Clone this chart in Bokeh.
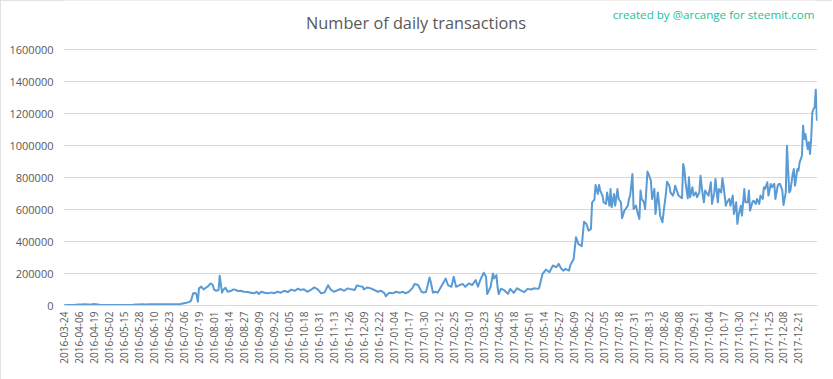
from bokeh.plotting import figure
from bokeh.models import Label, FixedTicker, Range1d, NumeralTickFormatter
from bokeh.embed import file_html
from bokeh.resources import INLINE
from math import pi

# days since 2016-03-24 (category index of the daily axis)
day = [0, 3, 6, 9, 12, 15, 18, 21, 24, 26, 29, 32, 35, 38, 41, 44, 47, 50, 53, 56, 59, 62, 65, 68, 71, 74, 77, 80, 83, 86, 89, 92, 95, 98, 101, 103,
       106, 108, 110, 112, 114, 115, 116, 117, 119, 121, 123, 125, 127, 129, 130, 132, 134, 135, 137, 138, 140, 142, 145, 147, 149, 151, 153, 156, 159,
       162, 165, 167, 169, 171, 174, 177, 180, 182, 185, 188, 191, 194, 197, 200, 203, 205, 208, 211, 214, 217, 220, 223, 226, 229, 231, 234, 237, 240,
       243, 246, 249, 252, 254, 256, 259, 260, 263, 266, 269, 272, 275, 278, 279, 282, 285, 288, 291, 294, 296, 299, 302, 304, 307, 309, 310, 312, 314,
       317, 318, 320, 322, 324, 327, 330, 331, 333, 336, 338, 340, 343, 346, 348, 351, 354, 357, 359, 361, 364, 366, 367, 370, 372, 373, 375, 376, 377, 379,
       382, 385, 387, 390, 393, 396, 399, 402, 405, 408, 411, 412, 415, 418, 421, 424, 427, 429, 431, 433, 435, 438, 439, 442, 444, 446, 449, 451, 453, 455,
       457, 458, 460, 461, 463, 464, 465, 467, 468, 470, 471, 473, 474, 475, 477, 478, 480, 481, 483, 484, 486, 487, 489, 490, 491, 493, 494, 496, 497, 499,
       500, 501, 503, 504, 506, 507, 509, 510, 512, 513, 515, 516, 517, 519, 520, 522, 523, 525, 526, 528, 529, 530, 532, 533, 535, 536, 537, 538, 539, 541,
       542, 543, 545, 546, 548, 549, 551, 552, 554, 555, 556, 558, 559, 561, 562, 564, 565, 567, 568, 570, 571, 572, 574, 575, 577, 578, 580, 581, 583, 584,
       585, 587, 588, 590, 591, 593, 594, 595, 597, 598, 600, 601, 603, 604, 606, 607, 608, 610, 611, 613, 614, 616, 617, 619, 620, 621, 623, 624, 626, 627,
       629, 630, 632, 633, 634, 636, 637, 638, 640, 641, 642, 643, 645, 646, 647, 648, 649, 650, 651, 652, 653]

transactions = [2000, 2500, 3000, 3500, 6000, 7000, 7500, 6500, 7000, 9000, 6000, 3000, 2500, 2500, 3000, 2500, 3000, 2500, 3000, 3500, 3000, 6500, 7000, 7500, 7000, 7500, 7500, 7500, 8000, 8000, 8000, 8500, 8000, 8500, 9000, 12000,
                17000, 21000, 28000, 76000, 78000, 65000, 24000, 107000, 118000, 101000, 111000, 121000, 138000, 128000, 101000, 92000, 97000, 186000, 80000, 97000, 111000, 86000, 92000, 101000, 97000, 90000, 92000, 86000, 84000,
                80000, 76000, 86000, 72000, 86000, 80000, 76000, 82000, 76000, 86000, 80000, 92000, 84000, 99000, 92000, 105000, 97000, 101000, 86000, 97000, 113000, 101000, 76000, 82000, 127000, 101000, 86000, 95000, 103000,
                92000, 107000, 101000, 97000, 126000, 121000, 117000, 101000, 113000, 107000, 97000, 86000, 92000, 76000, 58000, 80000, 76000, 86000, 80000, 86000, 76000, 86000, 107000, 134000, 128000, 101000, 86000, 80000, 86000,
                175000, 148000, 80000, 86000, 80000, 117000, 155000, 169000, 128000, 117000, 180000, 117000, 128000, 134000, 117000, 138000, 128000, 159000, 117000, 159000, 205000, 180000, 72000, 117000, 200000, 169000, 190000, 117000, 72000, 105000,
                94000, 73000, 104000, 79000, 108000, 94000, 83000, 104000, 100000, 108000, 104000, 108000, 198000, 225000, 208000, 250000, 239000, 260000, 233000, 218000, 229000, 218000, 250000, 291000, 427000, 385000, 370000, 524000, 510000, 468000,
                479000, 645000, 662000, 753000, 697000, 753000, 718000, 687000, 645000, 635000, 707000, 624000, 728000, 614000, 697000, 624000, 728000, 666000, 645000, 545000, 593000, 603000, 624000, 666000, 687000, 822000, 603000, 624000, 593000, 541000,
                718000, 666000, 645000, 603000, 837000, 822000, 780000, 666000, 728000, 572000, 707000, 645000, 562000, 520000, 583000, 697000, 774000, 749000, 707000, 687000, 707000, 749000, 707000, 687000, 676000, 670000, 884000, 853000, 770000, 670000,
                801000, 676000, 739000, 687000, 707000, 676000, 707000, 811000, 687000, 645000, 718000, 697000, 687000, 770000, 635000, 707000, 791000, 645000, 728000, 707000, 795000, 749000, 624000, 645000, 666000, 624000, 687000, 572000, 645000, 510000,
                562000, 624000, 562000, 728000, 645000, 645000, 718000, 593000, 645000, 655000, 635000, 666000, 635000, 687000, 666000, 739000, 728000, 770000, 687000, 760000, 739000, 760000, 666000, 749000, 760000, 760000, 718000, 628000, 707000, 999000,
                707000, 718000, 822000, 853000, 749000, 853000, 843000, 895000, 936000, 1124000, 1040000, 1072000, 978000, 1020000, 947000, 1040000, 1207000, 1228000, 1238000, 1349000, 1155000]

tick_labels = ["2016-03-24", "2016-04-06", "2016-04-19", "2016-05-02", "2016-05-15", "2016-05-28", "2016-06-10", "2016-06-23",
               "2016-07-06", "2016-07-19", "2016-08-01", "2016-08-14", "2016-08-27", "2016-09-09", "2016-09-22", "2016-10-05",
               "2016-10-18", "2016-10-31", "2016-11-13", "2016-11-26", "2016-12-09", "2016-12-22", "2017-01-04", "2017-01-17",
               "2017-01-30", "2017-02-12", "2017-02-25", "2017-03-10", "2017-03-23", "2017-04-05", "2017-04-18", "2017-05-01",
               "2017-05-14", "2017-05-27", "2017-06-09", "2017-06-22", "2017-07-05", "2017-07-18", "2017-07-31", "2017-08-13",
               "2017-08-26", "2017-09-08", "2017-09-21", "2017-10-04", "2017-10-17", "2017-10-30", "2017-11-12", "2017-11-25",
               "2017-12-08", "2017-12-21"]
tick_days = [13 * i for i in range(len(tick_labels))]

y_ticks = [0, 200000, 400000, 600000, 800000, 1000000, 1200000, 1400000, 1600000]

TXT = "#595959"
GRID = "#d9d9d9"

# frame spans the full top of the chart so the title and credit (drawn inside it) are not clipped;
# the value axis still shows 0 .. 1 600 000
p = figure(width=832, height=379, output_backend="svg", toolbar_location=None,
           x_range=Range1d(-0.5, 653.5), y_range=Range1d(0, 1906250),
           min_border_left=63, min_border_right=15, min_border_top=0, min_border_bottom=74)
p.outline_line_color = None
p.background_fill_color = "white"
p.border_fill_color = "white"
p.styles = {"outline": "1px solid #d9d9d9", "outline-offset": "-1px"}

p.line(day, transactions, line_color="#5b9bd5", line_width=2, line_join="round")

p.xgrid.grid_line_color = None
p.ygrid.grid_line_color = GRID
p.ygrid.grid_line_width = 1

p.yaxis.ticker = FixedTicker(ticks=y_ticks)
p.yaxis.formatter = NumeralTickFormatter(format="0")
p.yaxis.axis_line_color = None
p.yaxis.major_tick_line_color = None
p.yaxis.minor_tick_line_color = None
p.yaxis.major_tick_out = 0
p.yaxis.major_tick_in = 0
p.yaxis.major_label_standoff = 10
p.yaxis.major_label_text_font = "Open Sans"
p.yaxis.major_label_text_font_size = "11px"
p.yaxis.major_label_text_color = TXT

p.xaxis.ticker = FixedTicker(ticks=tick_days)
p.xaxis.major_label_overrides = {d: s for d, s in zip(tick_days, tick_labels)}
p.xaxis.major_label_orientation = pi / 2
p.xaxis.axis_line_color = GRID
p.xaxis.major_tick_line_color = None
p.xaxis.minor_tick_line_color = None
p.xaxis.major_tick_out = 0
p.xaxis.major_tick_in = 0
p.xaxis.major_label_standoff = 6
p.xaxis.major_label_text_font = "Open Sans"
p.xaxis.major_label_text_font_size = "10px"
p.xaxis.major_label_text_color = TXT

p.add_layout(Label(x=305.3, y=1768750, text="Number of daily transactions", text_align="center",
                   text_baseline="middle", text_font="Open Sans", text_font_size="16.3px", text_color=TXT))
p.add_layout(Label(x=475.9, y=1818750, text="created by @arcange for steemit.com", text_align="left",
                   text_baseline="middle", text_font="Open Sans", text_font_size="11.6px", text_color="#1dbf9b"))

open("out.html", "w").write(file_html(p, INLINE))
